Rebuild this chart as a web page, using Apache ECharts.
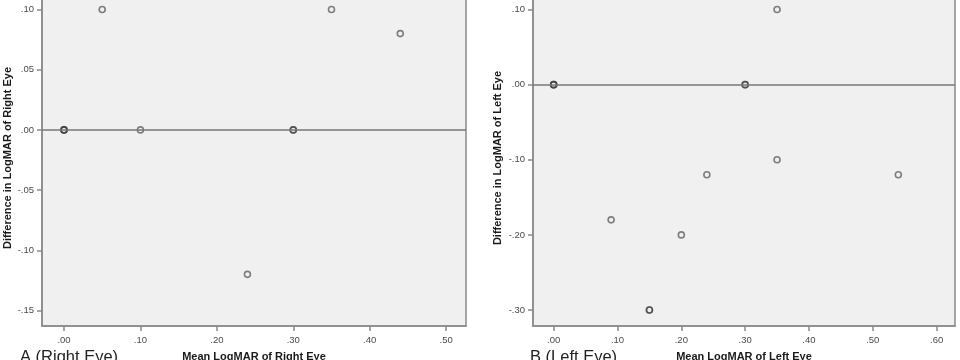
<!DOCTYPE html>
<html>
<head>
<meta charset="utf-8">
<script src="https://cdn.jsdelivr.net/npm/echarts@6/dist/echarts.min.js"></script>
<style>html,body{margin:0;padding:0;background:#fff;}#c{width:960px;height:360px;}</style>
</head>
<body>
<div id="c"></div>
<script>
// Right eye (panel A): [mean LogMAR, difference]
const rightEyePoints = [
  [0.00, 0.00], [0.00, 0.00], [0.00, 0.00],
  [0.05, 0.10],
  [0.10, 0.00],
  [0.24, -0.12],
  [0.30, 0.00], [0.30, 0.00],
  [0.35, 0.10],
  [0.44, 0.08]
];
// Left eye (panel B)
const leftEyePoints = [
  [0.00, 0.00], [0.00, 0.00], [0.00, 0.00],
  [0.09, -0.18],
  [0.15, -0.30], [0.15, -0.30],
  [0.20, -0.20],
  [0.24, -0.12],
  [0.30, 0.00], [0.30, 0.00],
  [0.35, 0.10],
  [0.35, -0.10],
  [0.54, -0.12]
];
const rightXTicks = [0, 0.1, 0.2, 0.3, 0.4, 0.5];
const rightYTicks = [-0.15, -0.10, -0.05, 0, 0.05, 0.10];
const leftXTicks = [0, 0.1, 0.2, 0.3, 0.4, 0.5, 0.6];
const leftYTicks = [-0.30, -0.20, -0.10, 0, 0.10];

function fmt(v) {
  let s = (Math.abs(v) < 1e-9 ? 0 : v).toFixed(2);
  return s.replace('0.', '.');
}

const FONT = '"Liberation Sans", Arial, sans-serif';
const axisLineStyle = { color: '#8a8a8a', width: 1.5 };

function xAxisCfg(gridIndex, min, max, ticks, name) {
  return {
    type: 'value', gridIndex, min, max,
    name, nameLocation: 'middle', nameGap: 25,
    nameTextStyle: { fontFamily: FONT, fontSize: 11, fontWeight: 'bold', color: '#1a1a1a', verticalAlign: 'top' },
    axisLine: { show: true, onZero: false, lineStyle: axisLineStyle },
    axisTick: { show: true, length: 5, lineStyle: axisLineStyle, customValues: ticks },
    axisLabel: { show: true, margin: 9, fontFamily: FONT, fontSize: 9.5, color: '#4a4a4a', customValues: ticks, formatter: fmt },
    splitLine: { show: false }
  };
}
function yAxisCfg(gridIndex, min, max, ticks, name, gap) {
  return {
    type: 'value', gridIndex, min, max,
    name, nameLocation: 'middle', nameGap: gap,
    nameTextStyle: { fontFamily: FONT, fontSize: 11, fontWeight: 'bold', color: '#1a1a1a' },
    axisLine: { show: true, onZero: false, lineStyle: axisLineStyle },
    axisTick: { show: true, length: 5, lineStyle: axisLineStyle, customValues: ticks },
    axisLabel: { show: true, margin: 8, fontFamily: FONT, fontSize: 9.5, color: '#4a4a4a', customValues: ticks, formatter: fmt },
    splitLine: { show: false }
  };
}

const pointStyle = { color: 'rgba(240,240,240,0)', borderColor: 'rgba(60,60,60,0.8)', borderWidth: 1.6 };
const refLine = {
  silent: true, symbol: 'none', label: { show: false },
  lineStyle: { color: '#777', width: 1.5, type: 'solid' },
  data: [{ yAxis: 0 }]
};

const chart = echarts.init(document.getElementById('c'), null, { renderer: 'canvas' });
chart.setOption({
  animation: false,
  backgroundColor: '#ffffff',
  grid: [
    { left: 42, right: 494, top: -10, bottom: 34, show: true, backgroundColor: '#f0f0f0', borderColor: '#8a8a8a', borderWidth: 1.5, containLabel: false, outerBoundsMode: 'none' },
    { left: 533, right: 5, top: -10, bottom: 34, show: true, backgroundColor: '#f0f0f0', borderColor: '#8a8a8a', borderWidth: 1.5, containLabel: false, outerBoundsMode: 'none' }
  ],
  xAxis: [
    xAxisCfg(0, -0.0288, 0.526, rightXTicks, 'Mean LogMAR of Right Eye'),
    xAxisCfg(1, -0.0324, 0.6288, leftXTicks, 'Mean LogMAR of Left Eye')
  ],
  yAxis: [
    yAxisCfg(0, -0.1629, 0.1162, rightYTicks, 'Difference in LogMAR of Right Eye', 28),
    yAxisCfg(1, -0.3213, 0.126, leftYTicks, 'Difference in LogMAR of Left Eye', 30)
  ],
  graphic: [
    { type: 'text', left: 20, top: 349, style: { text: 'A (Right Eye)', fontFamily: FONT, fontSize: 16.5, fill: '#222' } },
    { type: 'text', left: 530, top: 349, style: { text: 'B (Left Eye)', fontFamily: FONT, fontSize: 16.5, fill: '#222' } }
  ],
  series: [
    { type: 'scatter', xAxisIndex: 0, yAxisIndex: 0, data: rightEyePoints, symbol: 'circle', symbolSize: 6, itemStyle: pointStyle, markLine: refLine, z: 3 },
    { type: 'scatter', xAxisIndex: 1, yAxisIndex: 1, data: leftEyePoints, symbol: 'circle', symbolSize: 6, itemStyle: pointStyle, markLine: refLine, z: 3 }
  ]
});
</script>
</body>
</html>
